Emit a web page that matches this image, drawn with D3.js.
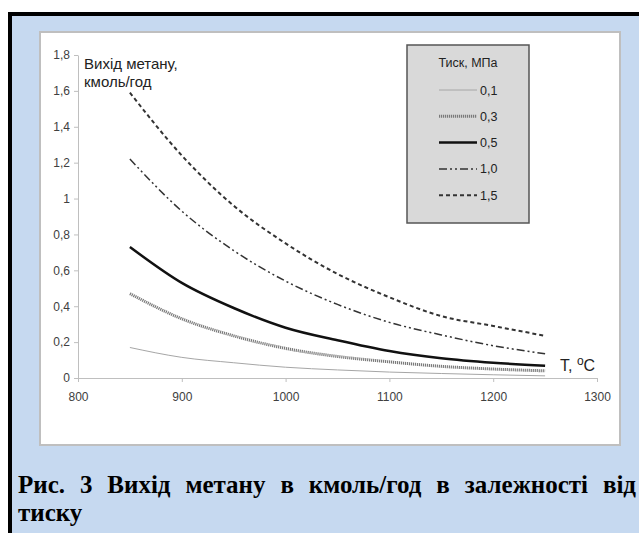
<!DOCTYPE html>
<html>
  <head>
    <meta charset="utf-8">
    <title>Вихід метану</title>
    <script src="https://d3js.org/d3.v7.min.js"></script>
    <style>
      body { margin: 0; background: #fff; }
      svg { display: block; }
    </style>
  </head>
  <body>
    <svg id="chart"></svg>
    <script>
      // temperatures, deg C
      var temps = [850, 900, 950, 1000, 1050, 1100, 1150, 1200, 1250];

      // methane output, kmol/h, one array per pressure
      var p01 = [0.17, 0.115, 0.085, 0.06, 0.045, 0.033, 0.025, 0.018, 0.012];
      var p03 = [0.47, 0.33, 0.235, 0.165, 0.12, 0.09, 0.065, 0.05, 0.04];
      var p05 = [0.73, 0.53, 0.39, 0.28, 0.21, 0.15, 0.11, 0.085, 0.068];
      var p10 = [1.22, 0.93, 0.71, 0.54, 0.41, 0.31, 0.24, 0.18, 0.135];
      var p15 = [1.59, 1.24, 0.96, 0.75, 0.58, 0.45, 0.345, 0.29, 0.235];

      var legendNames = ['0,1', '0,3', '0,5', '1,0', '1,5'];
      var xTicks = [800, 900, 1000, 1100, 1200, 1300];
      var yTicks = [0, 0.2, 0.4, 0.6, 0.8, 1, 1.2, 1.4, 1.6, 1.8];

      var series = [
        { name: legendNames[0], values: p01, color: '#a6a6a6', width: 1, dash: null },
        { name: legendNames[1], values: p03, color: '#7a7a7a', width: 3, dash: '1.2,0.8' },
        { name: legendNames[2], values: p05, color: '#111', width: 2.5, dash: null },
        { name: legendNames[3], values: p10, color: '#333', width: 1.5, dash: '8,3,2,3,2,3' },
        { name: legendNames[4], values: p15, color: '#333', width: 2, dash: '4,3' }
      ];

      var W = 639, H = 533;
      var svg = d3.select('#chart').attr('width', W).attr('height', H);

      // page frame: black top/left edge, light blue field
      svg.append('rect').attr('x', 8).attr('y', 12).attr('width', W - 8).attr('height', H - 12)
         .attr('fill', '#000');
      svg.append('rect').attr('x', 12).attr('y', 16).attr('width', W - 12).attr('height', H - 16)
         .attr('fill', '#c6d9f0');

      // white chart panel
      svg.append('rect').attr('x', 40).attr('y', 32).attr('width', 580).attr('height', 413)
         .attr('fill', '#fff').attr('stroke', '#bfbfbf').attr('stroke-width', 2);

      var x = d3.scaleLinear().domain([800, 1300]).range([78, 597]);
      var y = d3.scaleLinear().domain([0, 1.8]).range([378, 55]);

      var comma = function(d) { return String(d).replace('.', ','); };

      var gx = svg.append('g').attr('transform', 'translate(0,' + y(0) + ')')
        .call(d3.axisBottom(x).tickValues(xTicks).tickSize(4).tickPadding(10)
                .tickSizeOuter(0).tickFormat(d3.format('d')));
      var gy = svg.append('g').attr('transform', 'translate(' + x(800) + ',0)')
        .call(d3.axisLeft(y).tickValues(yTicks).tickSize(4).tickPadding(4)
                .tickSizeOuter(0).tickFormat(comma));

      [gx, gy].forEach(function(g) {
        g.select('.domain').attr('stroke', '#bfbfbf');
        g.selectAll('.tick line').attr('stroke', '#bfbfbf');
        g.selectAll('.tick text').attr('fill', '#404040')
         .style('font-family', '"Liberation Sans", Arial, sans-serif').style('font-size', '12px');
      });

      // curves
      var line = d3.line()
        .x(function(d, i) { return x(temps[i]); })
        .y(function(d) { return y(d); })
        .curve(d3.curveMonotoneX);

      svg.selectAll('path.curve').data(series).enter().append('path')
        .attr('class', 'curve')
        .attr('d', function(d) { return line(d.values); })
        .attr('fill', 'none')
        .attr('stroke', function(d) { return d.color; })
        .attr('stroke-width', function(d) { return d.width; })
        .attr('stroke-dasharray', function(d) { return d.dash; });

      // axis titles
      var labelFont = '"Liberation Sans", Arial, sans-serif';
      svg.append('text').attr('x', 84).attr('y', 69).text('Вихід метану,')
        .style('font-family', labelFont).style('font-size', '15px').attr('fill', '#222');
      svg.append('text').attr('x', 84).attr('y', 87).text('кмоль/год')
        .style('font-family', labelFont).style('font-size', '15px').attr('fill', '#222');

      var tl = svg.append('text').attr('x', 560).attr('y', 371)
        .style('font-family', labelFont).style('font-size', '16px').attr('fill', '#222');
      tl.append('tspan').text('T, ');
      tl.append('tspan').attr('dy', -6).style('font-size', '12px').text('o');
      tl.append('tspan').attr('dy', 6).text('C');

      // legend
      var lg = svg.append('g');
      lg.append('rect').attr('x', 407).attr('y', 45).attr('width', 122).attr('height', 178)
        .attr('fill', '#d9d9d9').attr('stroke', '#555').attr('stroke-width', 1.5);
      lg.append('text').attr('x', 468).attr('y', 67).attr('text-anchor', 'middle')
        .text('Тиск, МПа').style('font-family', labelFont).style('font-size', '12.5px')
        .attr('fill', '#222');
      var items = lg.selectAll('g.item').data(series).enter().append('g')
        .attr('class', 'item')
        .attr('transform', function(d, i) { return 'translate(0,' + (90 + i * 26.3) + ')'; });
      items.append('line').attr('x1', 439).attr('x2', 477)
        .attr('stroke', function(d) { return d.color; })
        .attr('stroke-width', function(d) { return d.width; })
        .attr('stroke-dasharray', function(d) { return d.dash; });
      items.append('text').attr('x', 480).attr('y', 4.5).text(function(d) { return d.name; })
        .style('font-family', labelFont).style('font-size', '12.5px').attr('fill', '#222');

      // caption, justified on the first line
      var capFont = '"Liberation Serif", "Times New Roman", serif';
      var cap1 = svg.append('text').attr('x', 18).attr('y', 493)
        .text('Рис. 3 Вихід метану в кмоль/год в залежності від')
        .style('font-family', capFont).style('font-size', '25px').style('font-weight', 'bold');
      var natural = cap1.node().getComputedTextLength();
      var spaces = 8;
      cap1.style('word-spacing', ((636 - 18 - natural) / spaces) + 'px');
      svg.append('text').attr('x', 18).attr('y', 521).text('тиску')
        .style('font-family', capFont).style('font-size', '25px').style('font-weight', 'bold');
    </script>
  </body>
</html>
